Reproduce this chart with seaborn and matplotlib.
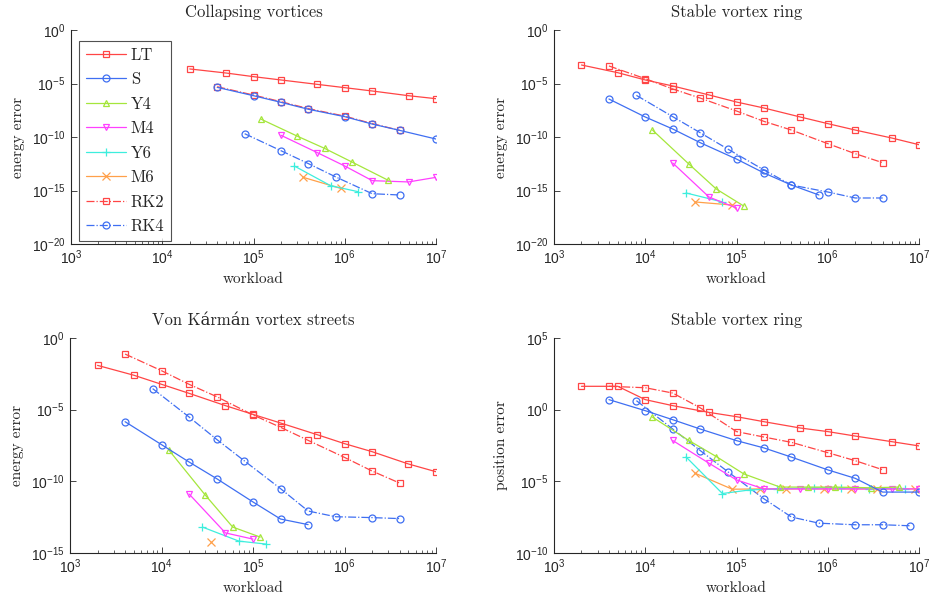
import matplotlib
matplotlib.use("Agg")
import matplotlib.pyplot as plt
import seaborn as sns
import pandas as pd
from matplotlib.ticker import FixedLocator, LogLocator, NullLocator, LogFormatterSciNotation

# ---------------- data (errors stored as log10 exponents) ----------------
methods = ["LT", "S", "Y4", "M4", "Y6", "M6", "RK2", "RK4"]

# Panel 1: Collapsing vortices (energy error)
p1_LT_x = [2e4, 5e4, 1e5, 2e5, 5e5, 1e6, 2e6, 5e6, 1e7]
p1_LT_e = [-3.64, -4.02, -4.36, -4.67, -5.08, -5.39, -5.70, -6.14, -6.42]
p1_S_x = [4e4, 1e5, 2e5, 4e5, 1e6, 2e6, 4e6, 1e7]
p1_S_e = [-5.36, -6.14, -6.76, -7.41, -8.10, -8.79, -9.38, -10.19]
p1_Y4_x = [1.2e5, 3e5, 6e5, 1.2e6, 3e6]
p1_Y4_e = [-8.32, -9.91, -11.06, -12.34, -14.05]
p1_M4_x = [2e5, 5e5, 1e6, 2e6, 5e6, 1e7]
p1_M4_e = [-9.84, -11.46, -12.71, -14.08, -14.2, -13.77]
p1_Y6_x = [2.8e5, 7e5, 1.4e6]
p1_Y6_e = [-12.71, -14.55, -15.11]
p1_M6_x = [3.5e5, 9e5]
p1_M6_e = [-13.77, -14.80]
p1_RK2_x = [4e4, 1e5, 2e5, 4e5, 1e6, 2e6, 4e6]
p1_RK2_e = [-5.30, -6.08, -6.70, -7.35, -8.05, -8.75, -9.38]
p1_RK4_x = [8e4, 2e5, 4e5, 8e5, 2e6, 4e6]
p1_RK4_e = [-9.69, -11.28, -12.49, -13.74, -15.30, -15.42]

# Panel 2: Stable vortex ring (energy error)
p2_LT_x = [2e3, 5e3, 1e4, 2e4, 5e4, 1e5, 2e5, 5e5, 1e6, 2e6, 5e6, 1e7]
p2_LT_e = [-3.27, -3.99, -4.67, -5.23, -6.07, -6.73, -7.29, -8.13, -8.75, -9.35, -10.09, -10.72]
p2_S_x = [4e3, 1e4, 2e4, 4e4, 1e5, 2e5, 4e5, 8e5]
p2_S_e = [-6.45, -8.13, -9.25, -10.53, -12.06, -13.36, -14.49, -15.42]
p2_Y4_x = [1.2e4, 3e4, 6e4, 1.2e5]
p2_Y4_e = [-9.35, -12.52, -14.86, -16.45]
p2_M4_x = [2e4, 5e4, 1e5]
p2_M4_e = [-12.43, -15.61, -16.64]
p2_Y6_x = [2.8e4, 7e4]
p2_Y6_e = [-15.23, -16.07]
p2_M6_x = [3.5e4, 9e4]
p2_M6_e = [-16.07, -16.36]
p2_RK2_x = [4e3, 1e4, 2e4, 4e4, 1e5, 2e5, 4e5, 1e6, 2e6, 4e6]
p2_RK2_e = [-3.36, -4.55, -5.51, -6.36, -7.57, -8.54, -9.35, -10.62, -11.56, -12.40]
p2_RK4_x = [8e3, 2e4, 4e4, 8e4, 2e5, 4e5, 1e6, 2e6, 4e6]
p2_RK4_e = [-6.11, -8.10, -9.60, -11.12, -13.08, -14.49, -15.14, -15.70, -15.70]

# Panel 3: Von Karman vortex streets (energy error)
p3_LT_x = [2e3, 5e3, 1e4, 2e4, 5e4, 1e5, 2e5, 5e5, 1e6, 2e6, 5e6, 1e7]
p3_LT_e = [-1.91, -2.60, -3.23, -3.86, -4.72, -5.33, -5.93, -6.74, -7.37, -7.93, -8.79, -9.33]
p3_S_x = [4e3, 1e4, 2e4, 4e4, 1e5, 2e5, 4e5]
p3_S_e = [-5.84, -7.44, -8.65, -9.81, -11.44, -12.63, -13.02]
p3_Y4_x = [1.2e4, 3e4, 6e4, 1.2e5]
p3_Y4_e = [-7.81, -10.95, -13.19, -13.89]
p3_M4_x = [2e4, 5e4, 1e5]
p3_M4_e = [-10.88, -13.60, -14.03]
p3_Y6_x = [2.8e4, 7e4, 1.4e5]
p3_Y6_e = [-13.19, -14.17, -14.38]
p3_M6_x = [3.5e4]
p3_M6_e = [-14.24]
p3_RK2_x = [4e3, 1e4, 2e4, 4e4, 1e5, 2e5, 4e5, 1e6, 2e6, 4e6]
p3_RK2_e = [-1.12, -2.28, -3.23, -4.09, -5.37, -6.23, -7.14, -8.33, -9.28, -10.12]
p3_RK4_x = [8e3, 2e4, 4e4, 8e4, 2e5, 4e5, 8e5, 2e6, 4e6]
p3_RK4_e = [-3.53, -5.51, -7.07, -8.56, -10.51, -12.07, -12.47, -12.53, -12.60]

# Panel 4: Stable vortex ring (position error)
p4_LT_x = [2e3, 5e3, 1e4, 2e4, 5e4, 1e5, 2e5, 5e5, 1e6, 2e6, 5e6, 1e7]
p4_LT_e = [1.63, 1.63, 0.70, 0.28, -0.19, -0.49, -0.84, -1.28, -1.53, -1.84, -2.23, -2.53]
p4_S_x = [4e3, 1e4, 2e4, 4e4, 1e5, 2e5, 4e5, 1e6, 2e6, 4e6, 1e7]
p4_S_e = [0.70, -0.07, -0.70, -1.35, -2.16, -2.67, -3.31, -4.20, -4.79, -5.75, -5.75]
p4_Y4_x = [1.2e4, 3e4, 6e4, 1.2e5, 3e5, 6e5, 1.2e6, 3e6, 6e6]
p4_Y4_e = [-0.52, -2.15, -3.27, -4.48, -5.40, -5.40, -5.40, -5.45, -5.40]
p4_M4_x = [2e4, 5e4, 1e5, 2e5, 5e5, 1e6, 2e6, 5e6, 1e7]
p4_M4_e = [-2.15, -3.74, -4.90, -5.53, -5.53, -5.53, -5.53, -5.53, -5.53]
p4_Y6_x = [2.8e4, 7e4, 1.4e5, 2.8e5, 7e5, 1.4e6, 2.8e6, 7e6]
p4_Y6_e = [-3.30, -5.85, -5.60, -5.53, -5.45, -5.45, -5.50, -5.50]
p4_M6_x = [3.5e4, 9e4, 1.8e5, 3.5e5, 9e5, 1.8e6, 3.5e6, 9e6]
p4_M6_e = [-4.43, -5.55, -5.53, -5.53, -5.53, -5.53, -5.53, -5.53]
p4_RK2_x = [4e3, 1e4, 2e4, 4e4, 1e5, 2e5, 4e5, 1e6, 2e6, 4e6]
p4_RK2_e = [1.63, 1.53, 1.16, 0.13, -1.53, -1.91, -2.28, -3.00, -3.56, -4.19]
p4_RK4_x = [8e3, 2e4, 4e4, 8e4, 2e5, 4e5, 8e5, 2e6, 4e6, 8e6]
p4_RK4_e = [0.63, -1.35, -2.85, -4.32, -6.22, -7.49, -7.92, -8.03, -8.03, -8.10]

titles = ["Collapsing vortices", "Stable vortex ring", "Von Kármán vortex streets", "Stable vortex ring"]
ylabels = ["energy error", "energy error", "energy error", "position error"]
xlabel = "workload"
x_ticks = [1e3, 1e4, 1e5, 1e6, 1e7]
y_ticks = [
    [1e-20, 1e-15, 1e-10, 1e-5, 1e0],
    [1e-20, 1e-15, 1e-10, 1e-5, 1e0],
    [1e-15, 1e-10, 1e-5, 1e0],
    [1e-10, 1e-5, 1e0, 1e5],
]

# ---------------- styling ----------------
colors = {"LT": "#ff4545", "S": "#3f6ff2", "Y4": "#a5e63c", "M4": "#ff40ff",
          "Y6": "#3deedd", "M6": "#ffa04a", "RK2": "#ff4545", "RK4": "#3f6ff2"}
markers = {"LT": "s", "S": "o", "Y4": "^", "M4": "v", "Y6": "+", "M6": "x", "RK2": "s", "RK4": "o"}
lstyles = {"LT": "-", "S": "-", "Y4": "-", "M4": "-", "Y6": "-", "M6": "-", "RK2": "-.", "RK4": "-."}
draw_order = ["RK4", "RK2", "M6", "Y6", "M4", "Y4", "S", "LT"]

sns.set_theme(style="white")
plt.rcParams["font.family"] = ["Liberation Sans", "DejaVu Sans"]
plt.rcParams["mathtext.default"] = "regular"
plt.rcParams["axes.formatter.use_mathtext"] = True
serif = ["cmr10", "DejaVu Serif"]

g = globals()
panels = []
for i in range(1, 5):
    rows = []
    for m in methods:
        xs = g[f"p{i}_{m}_x"]
        es = g[f"p{i}_{m}_e"]
        for x, e in zip(xs, es):
            rows.append({"method": m, "workload": x, "error": 10.0 ** e})
    panels.append(pd.DataFrame(rows))

fig = plt.figure(figsize=(9.32, 6.01), dpi=100)
W, H = 932.0, 601.0
boxes = [(71, 30, 436, 244), (554, 30, 919, 244), (70, 338, 436, 553), (554, 338, 919, 553)]

for k, df in enumerate(panels):
    l, t, r, b = boxes[k]
    ax = fig.add_axes([l / W, 1 - b / H, (r - l) / W, (b - t) / H])
    ax.set_xscale("log")
    ax.set_yscale("log")
    for m in draw_order:
        sub = df[df["method"] == m]
        if sub.empty:
            continue
        c = colors[m]
        sns.lineplot(data=sub, x="workload", y="error", ax=ax, sort=False, estimator=None,
                     color=c, linestyle=lstyles[m], linewidth=0.9, marker=markers[m],
                     markersize=5 if markers[m] not in "+x" else 6,
                     markerfacecolor="none", markeredgecolor=c, markeredgewidth=0.9,
                     label=m)
    ax.set_xlim(1e3, 1e7)
    yt = y_ticks[k]
    ax.set_ylim(yt[0], yt[-1])
    ax.xaxis.set_major_locator(FixedLocator(x_ticks))
    ax.xaxis.set_minor_locator(LogLocator(base=10, subs=range(2, 10), numticks=20))
    ax.yaxis.set_major_locator(FixedLocator(yt))
    ax.yaxis.set_minor_locator(NullLocator())
    ax.xaxis.set_major_formatter(LogFormatterSciNotation())
    ax.yaxis.set_major_formatter(LogFormatterSciNotation())
    for side in ["top", "right"]:
        ax.spines[side].set_visible(False)
    for side in ["left", "bottom"]:
        ax.spines[side].set_color("#262626")
        ax.spines[side].set_linewidth(0.8)
    ax.tick_params(axis="both", which="both", direction="in", colors="#262626",
                   labelsize=10, left=True, bottom=True, top=False, right=False)
    ax.tick_params(axis="both", which="major", length=4, width=0.6, pad=3)
    ax.tick_params(axis="x", which="minor", length=2, width=0.5)
    ax.tick_params(axis="y", which="major", pad=4)
    ax.set_title(titles[k], family=serif, fontsize=12, color="#262626", pad=9)
    ax.set_xlabel(xlabel, family=serif, fontsize=11, color="#262626", labelpad=4)
    ax.set_ylabel(ylabels[k], family=serif, fontsize=11, color="#262626", labelpad=5)
    if k == 0:
        hs, ls = ax.get_legend_handles_labels()
        hmap = dict(zip(ls, hs))
        leg = ax.legend([hmap[m] for m in methods], methods, loc="upper left",
                        bbox_to_anchor=(0.022, 0.95), prop={"family": serif, "size": 12},
                        frameon=True, fancybox=False, edgecolor="#262626",
                        labelspacing=0.55, handlelength=2.4, handletextpad=0.3,
                        borderpad=0.4, borderaxespad=0.0)
        leg.get_frame().set_linewidth(0.8)
    else:
        if ax.get_legend() is not None:
            ax.get_legend().remove()

fig.savefig("out.png", dpi=100, facecolor="white")
